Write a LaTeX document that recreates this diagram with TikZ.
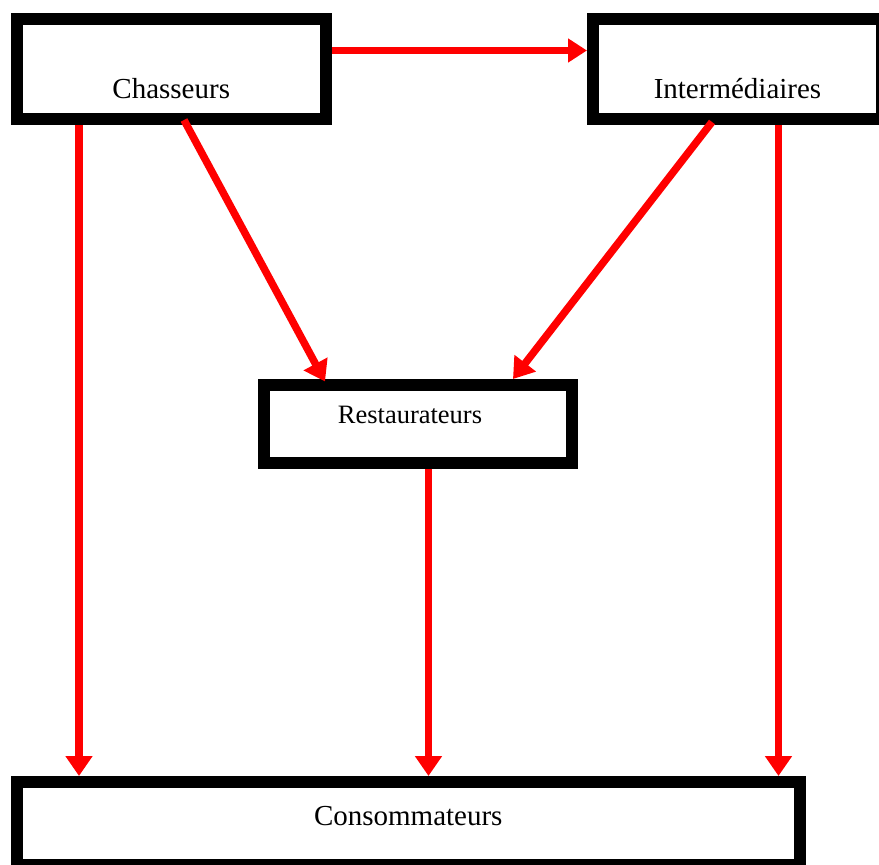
\documentclass[tikz,border=0pt]{standalone}
\usepackage{fontspec}
\setmainfont{Liberation Serif}
\usetikzlibrary{arrows.meta,calc}
\begin{document}
\begin{tikzpicture}[x=1pt,y=-1pt,
  box/.style={draw=black, line width=12pt, rectangle, inner sep=0pt, fill=white},
  lab/.style={anchor=base, inner sep=0pt, font=\fontsize{29}{34}\selectfont},
  flow/.style={draw=red, line width=7.5pt, -{Triangle[length=20pt,width=26pt]}}
]
\useasboundingbox (0,0) rectangle (879,865);
% boxes
\node[box, minimum width=308.5pt, minimum height=100.5pt] (chas) at (171.25,68.75) {};
\node[box, minimum width=289pt, minimum height=100.5pt] (inter) at (737.5,68.75) {};
\node[box, minimum width=308pt, minimum height=78pt] (rest) at (418,423.5) {};
\node[box, minimum width=782.5pt, minimum height=83pt] (cons) at (408.25,823.5) {};
% texts
\node[lab] (chasT) at ([yshift=-29.25pt]chas.center) {Chasseurs};
\node[lab] (interT) at ([yshift=-29.25pt]inter.center) {Intermédiaires};
\node[lab, font=\fontsize{26.5}{32}\selectfont] (restT) at ([xshift=-8pt,yshift=0.5pt]rest.center) {Restaurateurs};
\node[lab] (consT) at ([yshift=-1.5pt]cons.center) {Consommateurs};
% connector anchors
\coordinate (c1) at ([xshift=-92.25pt]chas.south);
\coordinate (c2) at ([xshift=41pt]inter.south);
\coordinate (c3) at ([xshift=10.5pt]rest.south);
\coordinate (d1s) at ([xshift=12.75pt,yshift=5pt]chas.south);
\coordinate (d1e) at ([xshift=-93pt,yshift=-3pt]rest.north);
\coordinate (d2s) at ([xshift=-25.5pt,yshift=3pt]inter.south);
\coordinate (d2e) at ([xshift=95pt,yshift=-0.5pt]rest.north);
\coordinate (t1) at ([yshift=18.25pt]chas.east);
% connectors
\draw[flow, -{Triangle[length=19pt,width=23pt]}] (t1) -- (t1 -| inter.west);
\draw[flow] (c1) -- (c1 |- cons.north);
\draw[flow] (c2) -- (c2 |- cons.north);
\draw[flow] (c3) -- (c3 |- cons.north);
\draw[flow] (d1s) -- (d1e);
\draw[flow] (d2s) -- (d2e);
\end{tikzpicture}
\end{document}
